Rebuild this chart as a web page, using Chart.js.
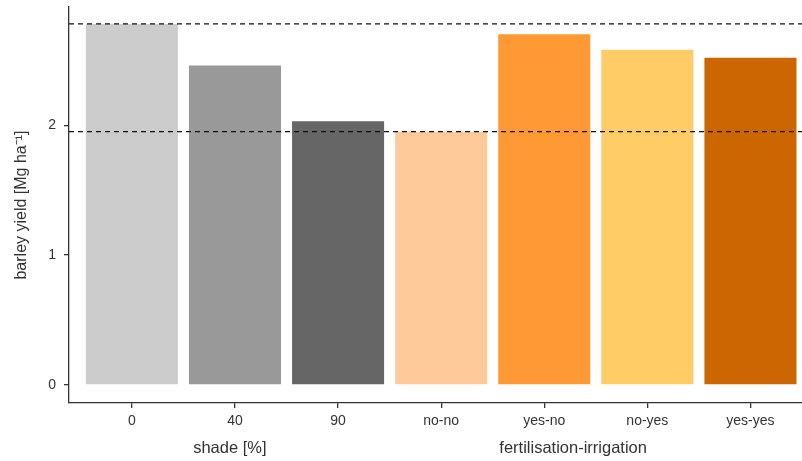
<!DOCTYPE html>
<html>
<head>
<meta charset="utf-8">
<script src="https://cdn.jsdelivr.net/npm/chart.js@4/dist/chart.umd.min.js"></script>
<style>
  html, body { margin: 0; padding: 0; background: #fff; }
  #wrap { width: 802px; height: 461px; }
</style>
</head>
<body>
<div id="wrap"><canvas id="chart"></canvas></div>
<script>
// categories and yields
const categories = ['0', '40', '90', 'no-no', 'yes-no', 'no-yes', 'yes-yes'];
const yieldValues = [2.78, 2.46, 2.03, 1.95, 2.70, 2.58, 2.52];
const barColors = ['#cccccc', '#999999', '#666666', '#ffca99', '#ff9933', '#ffcc66', '#cc6600'];
const refLines = [2.78, 1.95];           // dashed horizontal lines
const yTicks = [0, 1, 2];
const groupLabels = ['shade [%]', 'fertilisation-irrigation'];
const groupCenters = [0.95, 4.28];       // in category units

const xMin = -0.61, xMax = 6.5;
const textColor = '#333333';
Chart.defaults.font.family = '"Liberation Sans", Arial, sans-serif';

const datasets = [{
  type: 'bar',
  data: yieldValues.map((v, i) => ({ x: i, y: v })),
  backgroundColor: barColors,
  borderWidth: 0,
  categoryPercentage: 1,
  barPercentage: 0.893,
  order: 2
}];
refLines.forEach(r => {
  datasets.push({
    type: 'line',
    data: [{ x: xMin, y: r }, { x: xMax, y: r }],
    borderColor: '#111111',
    borderWidth: 1.2,
    borderDash: [5, 4],
    pointRadius: 0,
    order: 1
  });
});

// group titles under the tick labels
const groupTitles = {
  id: 'groupTitles',
  afterDraw(chart) {
    const ctx = chart.ctx;
    const xs = chart.scales.x;
    ctx.save();
    ctx.font = '16.5px "Liberation Sans", Arial, sans-serif';
    ctx.fillStyle = textColor;
    ctx.textAlign = 'center';
    ctx.textBaseline = 'middle';
    groupLabels.forEach((t, i) => {
      ctx.fillText(t, xs.getPixelForValue(groupCenters[i]), 448);
    });
    ctx.restore();
  }
};

new Chart(document.getElementById('chart'), {
  type: 'bar',
  data: { datasets },
  options: {
    responsive: true,
    maintainAspectRatio: false,
    animation: false,
    layout: { padding: { top: 7, right: 0, left: 0, bottom: 0 } },
    plugins: { legend: { display: false }, tooltip: { enabled: false } },
    scales: {
      x: {
        type: 'linear',
        min: xMin,
        max: xMax,
        offset: false,
        afterBuildTicks: s => { s.ticks = categories.map((c, i) => ({ value: i })); },
        afterFit: s => { s.height = 58; s.paddingLeft = 0; s.paddingRight = 0; },
        ticks: {
          callback: v => categories[v],
          color: textColor,
          font: { size: 14 },
          padding: 5,
          maxRotation: 0,
          autoSkip: false
        },
        grid: { offset: false, drawOnChartArea: false, drawTicks: true, tickLength: 5, color: textColor, lineWidth: 1.3 },
        border: { display: true, color: textColor, width: 1.3 }
      },
      y: {
        min: -0.14,
        max: 2.91,
        afterBuildTicks: s => { s.ticks = yTicks.map(v => ({ value: v })); },
        afterFit: s => { s.width = 69; s.paddingTop = 0; s.paddingBottom = 0; },
        ticks: { color: textColor, font: { size: 14 }, padding: 8 },
        grid: { drawOnChartArea: false, drawTicks: true, tickLength: 5, color: textColor, lineWidth: 1.3 },
        border: { display: true, color: textColor, width: 1.3 },
        title: {
          display: true,
          text: 'barley yield [Mg ha\u207B\u00B9]',
          color: textColor,
          font: { size: 16 },
          padding: { top: 12, bottom: 0 }
        }
      }
    }
  },
  plugins: [groupTitles]
});
</script>
</body>
</html>
